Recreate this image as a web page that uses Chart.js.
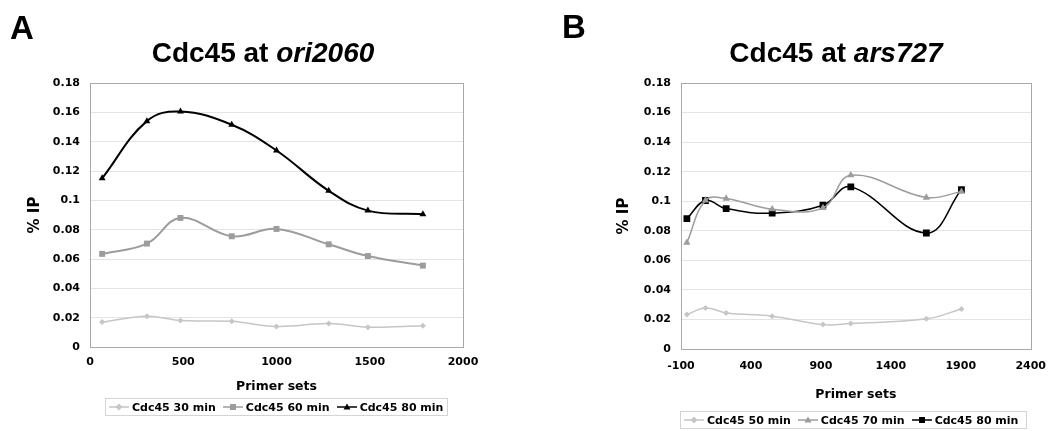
<!DOCTYPE html>
<html>
<head>
<meta charset="utf-8">
<script src="https://cdn.jsdelivr.net/npm/chart.js@4"></script>
<style>
  body { margin: 0; background: #fff; }
  #page { position: relative; width: 1057px; height: 431px; overflow: hidden; }
  .panel { position: absolute; top: 0; }
  .letter, .title { position: absolute; font-family: "Liberation Sans", Arial, sans-serif; font-weight: bold; line-height: 1; color: #000; white-space: nowrap; }
  .letter { font-size: 33px; }
  .title { font-size: 28px; width: 400px; text-align: center; }
  .legend { position: absolute; display: flex; align-items: center; box-sizing: border-box;
            border: 1px solid #d4d4d4; font-family: "DejaVu Sans", Verdana, sans-serif;
            font-weight: bold; font-size: 11px; color: #000; padding-left: 3px; white-space: nowrap; }
  .legend .item { display: flex; align-items: center; margin-right: 7px; }
  .legend svg { margin-right: 3px; }
</style>
</head>
<body>
<div id="page">
  <div class="panel" style="left:0;width:528px;height:431px"><canvas id="chartA" width="528" height="431"></canvas></div>
  <div class="panel" style="left:530px;width:527px;height:431px"><canvas id="chartB" width="527" height="431"></canvas></div>

  <div class="letter" style="left:10px;top:11px">A</div>
  <div class="title" style="left:63px;top:39px">Cdc45 at <i>ori2060</i></div>
  <div class="letter" style="left:562px;top:10px">B</div>
  <div class="title" style="left:636px;top:39px">Cdc45 at <i>ars727</i></div>

  <div class="legend" id="legendA" style="left:105px;top:398px;width:343px;height:18px"></div>
  <div class="legend" id="legendB" style="left:680px;top:411px;width:347px;height:18px"></div>
</div>
<script>
// panel A: Cdc45 at ori2060
const primerA = [65, 305, 485, 760, 1000, 1280, 1490, 1785];
const ipA30 = [0.017, 0.021, 0.018, 0.0175, 0.014, 0.016, 0.0135, 0.0145];
const ipA60 = [0.0635, 0.0705, 0.088, 0.0755, 0.0805, 0.070, 0.062, 0.0555];
const ipA80 = [0.115, 0.154, 0.1605, 0.1515, 0.134, 0.1065, 0.093, 0.0905];
const xTicksA = [0, 500, 1000, 1500, 2000];

// panel B: Cdc45 at ars727
const primerB = [-58, 75, 223, 552, 915, 1114, 1654, 1905];
const ipB50 = [0.0233, 0.0278, 0.0244, 0.0222, 0.0165, 0.0172, 0.0204, 0.0271];
const ipB70 = [0.072, 0.1005, 0.1018, 0.0946, 0.0955, 0.1176, 0.1025, 0.1065];
const ipB80 = [0.0882, 0.1005, 0.095, 0.0919, 0.0973, 0.1097, 0.0785, 0.1079];
const xTicksB = [-100, 400, 900, 1400, 1900, 2400];

const yTicks = [0, 0.02, 0.04, 0.06, 0.08, 0.1, 0.12, 0.14, 0.16, 0.18];

const LIGHT = "#c6c6c6";
const MID = "#9c9c9c";
const DARK = "#000000";
const tickFont = { family: "DejaVu Sans", weight: "bold", size: 11 };

function points(xs, ys) {
  return xs.map((x, i) => ({ x: x, y: ys[i] }));
}

function series(label, xs, ys, color, style, radius, width) {
  return {
    label: label,
    data: points(xs, ys),
    borderColor: color,
    backgroundColor: color,
    borderWidth: width,
    pointStyle: style,
    pointRadius: radius,
    pointBorderWidth: 0,
    tension: 0.4,
    fill: false
  };
}

const plotBorder = {
  id: "plotBorder",
  beforeDatasetsDraw(chart) {
    const a = chart.chartArea;
    const ctx = chart.ctx;
    ctx.save();
    ctx.strokeStyle = "#a8a8a8";
    ctx.lineWidth = 1;
    ctx.strokeRect(Math.round(a.left) + 0.5, Math.round(a.top) + 0.5,
                   Math.round(a.right - a.left), Math.round(a.bottom - a.top));
    ctx.restore();
  }
};

function makeChart(id, cfg) {
  return new Chart(document.getElementById(id), {
    type: "line",
    data: { datasets: cfg.datasets },
    plugins: [plotBorder],
    options: {
      responsive: false,
      animation: false,
      layout: { padding: { top: 83, right: cfg.padRight, bottom: 0, left: 0 } },
      plugins: { legend: { display: false }, tooltip: { enabled: false } },
      scales: {
        x: {
          type: "linear",
          min: cfg.xTicks[0],
          max: cfg.xTicks[cfg.xTicks.length - 1],
          afterBuildTicks: s => { s.ticks = cfg.xTicks.map(v => ({ value: v })); },
          afterFit: s => { s.height = cfg.xHeight; },
          grid: { drawOnChartArea: false, drawTicks: false },
          border: { color: "#a0a0a0" },
          ticks: {
            font: tickFont, color: "#000", padding: cfg.xPad, maxRotation: 0,
            callback: v => String(v)
          },
          title: {
            display: true, text: "Primer sets", color: "#000",
            font: { family: "DejaVu Sans", weight: "bold", size: 12.5 },
            padding: { top: 0, bottom: cfg.xTitlePad }
          }
        },
        y: {
          min: 0,
          max: 0.18,
          afterBuildTicks: s => { s.ticks = yTicks.map(v => ({ value: v })); },
          afterFit: s => { s.width = cfg.yWidth; },
          grid: { color: "#e4e4e4", drawTicks: false },
          border: { color: "#a0a0a0" },
          ticks: {
            font: tickFont, color: "#000", padding: 10,
            callback: v => String(+v.toFixed(2))
          },
          title: {
            display: true, text: "% IP", color: "#000",
            font: { family: "DejaVu Sans", weight: "bold", size: 15 },
            padding: { top: cfg.yTitlePad, bottom: 0 }
          }
        }
      }
    }
  });
}

makeChart("chartA", {
  datasets: [
    series("Cdc45 30 min", primerA, ipA30, LIGHT, "rectRot", 3, 1.5),
    series("Cdc45 60 min", primerA, ipA60, MID, "rect", 4.2, 2),
    series("Cdc45 80 min", primerA, ipA80, DARK, "triangle", 4, 2)
  ],
  xTicks: xTicksA,
  padRight: 65,
  xHeight: 84,
  xPad: 9,
  xTitlePad: 37,
  yWidth: 90,
  yTitlePad: 26
});

makeChart("chartB", {
  datasets: [
    series("Cdc45 50 min", primerB, ipB50, LIGHT, "rectRot", 3, 1.5),
    series("Cdc45 70 min", primerB, ipB70, MID, "triangle", 4.2, 1.5),
    series("Cdc45 80 min", primerB, ipB80, DARK, "rect", 4.8, 1.5)
  ],
  xTicks: xTicksB,
  padRight: 23,
  xHeight: 82,
  xPad: 11,
  xTitlePad: 29,
  yWidth: 151,
  yTitlePad: 85
});

// legends: line segment with the series marker, then the label
function marker(style, color) {
  if (style === "rectRot") return `<polygon points="10,1.5 13.5,5 10,8.5 6.5,5" fill="${color}"/>`;
  if (style === "rect") return `<rect x="7" y="2" width="6" height="6" fill="${color}"/>`;
  return `<polygon points="10,1.5 13.5,7.5 6.5,7.5" fill="${color}"/>`;
}

function buildLegend(id, items) {
  document.getElementById(id).innerHTML = items.map(it =>
    `<span class="item"><svg width="20" height="10" viewBox="0 0 20 10">` +
    `<line x1="0" y1="5" x2="20" y2="5" stroke="${it[1]}" stroke-width="1.5"/>` +
    marker(it[2], it[1]) + `</svg>${it[0]}</span>`
  ).join("");
}

buildLegend("legendA", [
  ["Cdc45 30 min", LIGHT, "rectRot"],
  ["Cdc45 60 min", MID, "rect"],
  ["Cdc45 80 min", DARK, "triangle"]
]);
buildLegend("legendB", [
  ["Cdc45 50 min", LIGHT, "rectRot"],
  ["Cdc45 70 min", MID, "triangle"],
  ["Cdc45 80 min", DARK, "rect"]
]);
</script>
</body>
</html>
